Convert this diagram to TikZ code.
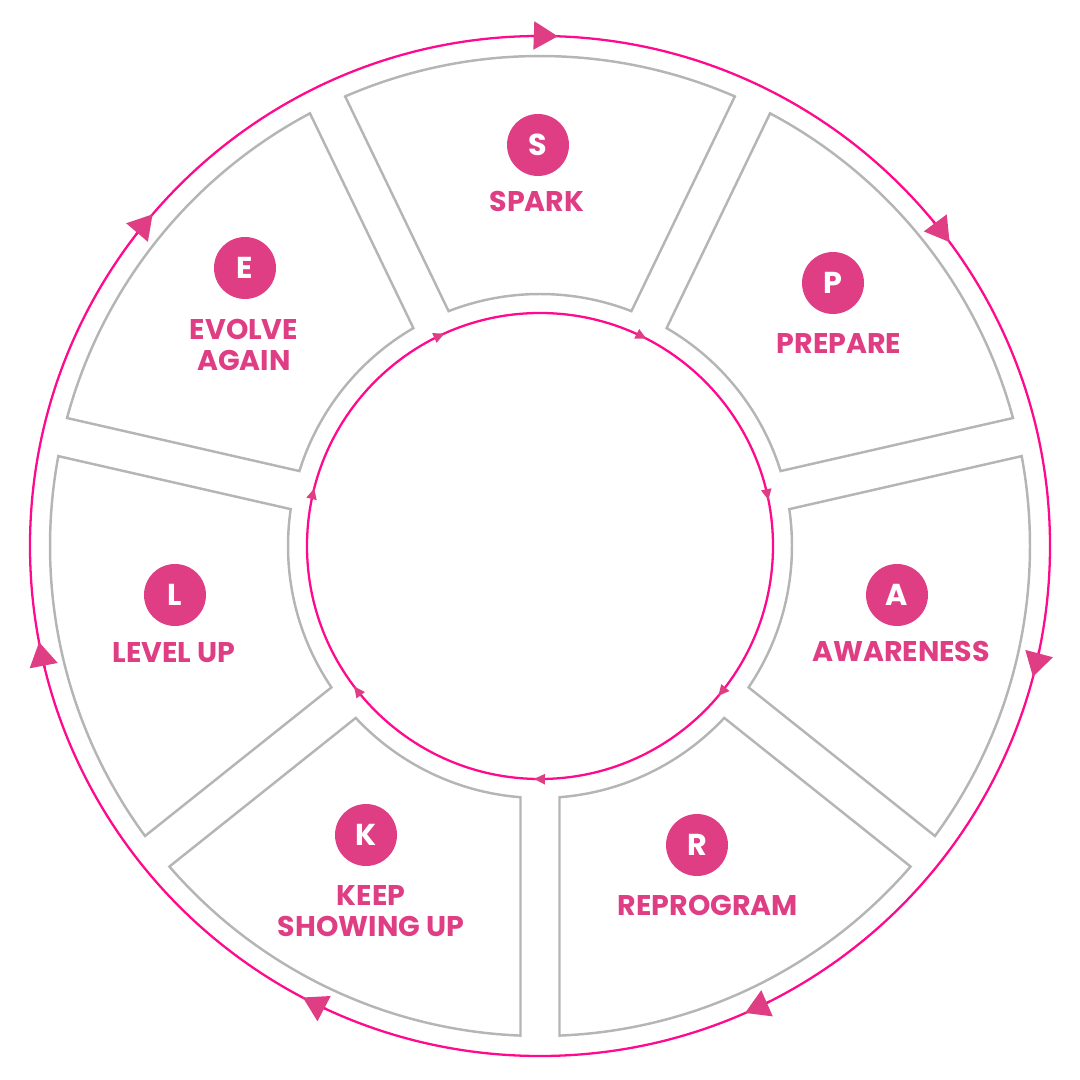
\documentclass[tikz,border=0pt]{standalone}
\usepackage{fontspec}
\setmainfont{Poppins}
\usetikzlibrary{arrows.meta}
\definecolor{ringpink}{HTML}{FF0A8C}
\definecolor{badgepink}{HTML}{DF3E84}
\definecolor{rimgray}{HTML}{B5B5B5}
\begin{document}
\begin{tikzpicture}[
    segment/.style={draw=rimgray, line width=0.7pt},
    loop/.style={draw=ringpink, line width=0.65pt},
    bigtip/.style={loop, -{Triangle[length=2.4mm, width=2.8mm, color=badgepink]}},
    smalltip/.style={loop, -{Triangle[length=1.1mm, width=1.0mm, color=badgepink]}},
    badge/.style={circle, fill=badgepink, minimum size=6.2mm, inner sep=0pt, text=white, font=\bfseries\fontsize{8.6}{10}\selectfont},
    stage/.style={text=badgepink, align=center, font=\bfseries\fontsize{8.1}{8.8}\selectfont}
]
    \useasboundingbox (-5.40,-5.34) rectangle (5.40,5.46);
    % the seven stages
    \foreach \c in {90,38.57,-12.86,-64.29,-115.71,-167.14,141.43}
        \draw[segment] ({\c+23.43}:4.9) arc[start angle={\c+23.43}, end angle={\c-23.43}, radius=4.9]
            -- ({\c-21.27}:2.52) arc[start angle={\c-21.27}, end angle={\c+21.27}, radius=2.52] -- cycle;
    % outer and inner loop, clockwise
    \draw[loop] (0,0) circle[radius=5.1];
    \draw[loop] (0,0) circle[radius=2.33];
    \foreach \c in {90,38.57,-12.86,-64.29,-115.71,-167.14,141.43}
        \draw[bigtip] ({\c+1}:5.1) arc[start angle={\c+1}, end angle={\c-2}, radius=5.1];
    \foreach \c in {64.29,12.86,-38.57,-90,-141.43,-192.86,115.71}
        \draw[smalltip] ({\c+1}:2.33) arc[start angle={\c+1}, end angle={\c-1.5}, radius=2.33];
    % badges and names
    \node[badge] (s) at (-0.02,4.01) {S};
    \node[stage] (spark) at (-0.03,3.45) {SPARK};
    \node[badge] (p) at (2.93,2.63) {P};
    \node[stage] (prepare) at (2.99,2.02) {PREPARE};
    \node[badge] (a) at (3.57,-0.49) {A};
    \node[stage] (awareness) at (3.61,-1.05) {AWARENESS};
    \node[badge] (r) at (1.57,-2.99) {R};
    \node[stage] (reprogram) at (1.68,-3.59) {REPROGRAM};
    \node[badge] (k) at (-1.74,-2.89) {K};
    \node[stage] (keep) at (-1.69,-3.65) {KEEP\\SHOWING UP};
    \node[badge] (l) at (-3.65,-0.49) {L};
    \node[stage] (levelup) at (-3.66,-1.07) {LEVEL UP};
    \node[badge] (e) at (-2.95,2.78) {E};
    \node[stage] (evolve) at (-2.96,2.01) {EVOLVE\\AGAIN};
\end{tikzpicture}
\end{document}
